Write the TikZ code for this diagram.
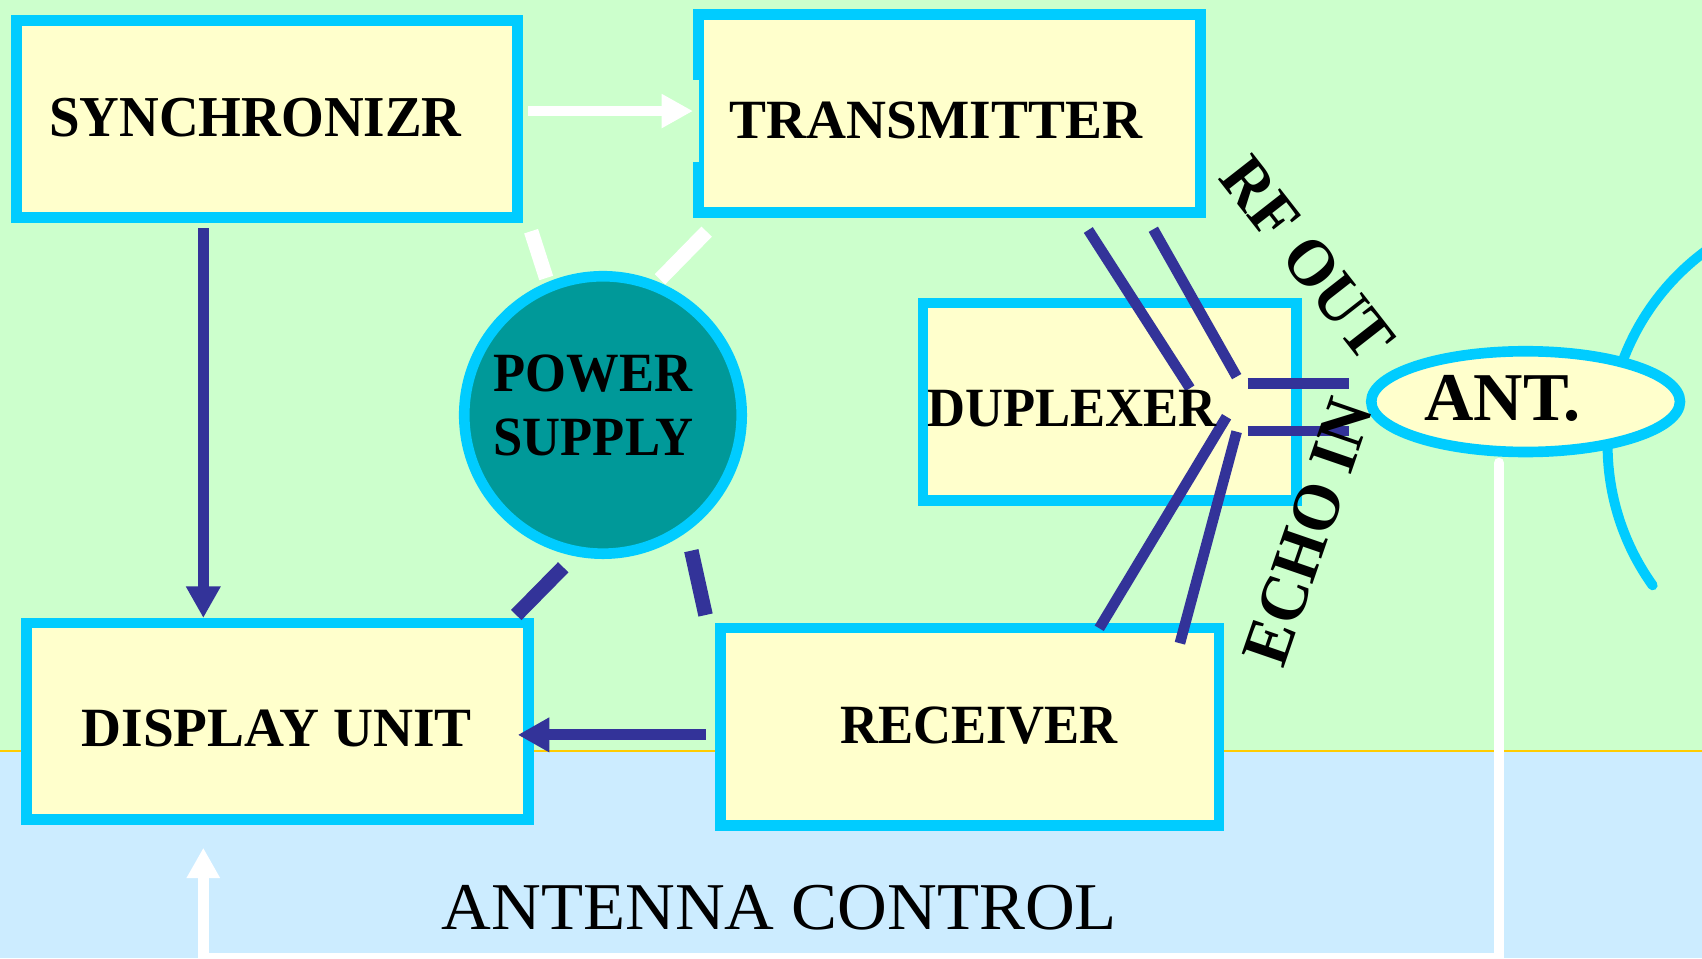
\documentclass[tikz,border=0pt]{standalone}
\usepackage{fontspec}
\usetikzlibrary{arrows.meta,shapes.geometric}
\newfontfamily\lblfont[FakeStretch=0.95]{Liberation Serif}
\newfontfamily\lblwide{Liberation Serif}
\newfontfamily\plainfont[FakeStretch=1.03]{Liberation Serif}
\definecolor{bggreen}{HTML}{CCFFCC}
\definecolor{bgblue}{HTML}{CCECFF}
\definecolor{boxfill}{HTML}{FFFFCC}
\definecolor{cyanb}{HTML}{00CCFF}
\definecolor{navy}{HTML}{333399}
\definecolor{teal}{HTML}{009999}
\definecolor{orangel}{HTML}{FFCC00}
\begin{document}
\begin{tikzpicture}[x=1pt,y=-1pt,
  box/.style={rectangle, draw=cyanb, fill=boxfill, line width=9.8pt, inner sep=0pt},
  lbl/.style={inner sep=0pt, text=black, font=\lblfont\bfseries\fontsize{51}{61}\selectfont},
  lblw/.style={inner sep=0pt, text=black, font=\lblwide\bfseries\fontsize{51}{61}\selectfont},
  navyline/.style={draw=navy, line width=9.8pt},
  navyarrow/.style={draw=navy, line width=10pt, -{Triangle[length=29pt,width=30pt]}},
  whitearrow/.style={draw=white, line width=9.8pt, -{Triangle[length=28.8pt,width=29.5pt]}},
  dashseg/.style={line width=13.4pt},
]
\useasboundingbox (0,0) rectangle (1568,883);
\clip (0,0) rectangle (1568,883);
% backgrounds
\fill[bggreen] (0,0) rectangle (1568,691.5);
\fill[bgblue] (0,691.5) rectangle (1568,883);
\draw[orangel, line width=1.8pt] (0,691.5) -- (1568,691.5);
% antenna dish arc
\draw[cyanb, line width=9.2pt, line cap=round] plot[domain=144.4:245, samples=80] ({1703+222*cos(\x)},{410+222*sin(\x)});
% boxes
\node[box, minimum width=461.6pt, minimum height=181.6pt] (synch) at (245.8,109.5) {};
\node[box, minimum width=462.8pt, minimum height=182.2pt] (trans) at (874.7,104.6) {};
\node[box, minimum width=344pt, minimum height=181.9pt] (dup) at (1022.3,370.05) {};
\node[box, minimum width=459.5pt, minimum height=181.8pt] (recv) at (893.35,669.5) {};
\node[box, minimum width=462.1pt, minimum height=181.2pt] (disp) at (255.65,664.5) {};
\node[circle, draw=cyanb, fill=teal, line width=9.8pt, inner sep=0pt, minimum size=255.6pt] (power) at (555.5,382.3) {};
\node[ellipse, draw=cyanb, fill=boxfill, line width=9.8pt, inner sep=0pt, minimum width=284.4pt, minimum height=92.8pt] (ant) at (1405.5,370) {};
% notch in transmitter border
\fill[bggreen] (638.4,73.7) rectangle (644,149.2);
% coordinates
\coordinate (sw1) at (486.7,102.3);
\coordinate (sw2) at (638.4,102.3);
\coordinate (sd1) at (187.3,210.3);
\coordinate (sd2) at (187.3,569.3);
\coordinate (rd1) at (650,677);
\coordinate (rd2) at (477,677);
\coordinate (wd1a) at (489.3,213);
\coordinate (wd1b) at (503.2,256.1);
\coordinate (wd2a) at (651,213.4);
\coordinate (wd2b) at (608,257.3);
\coordinate (nd1a) at (518.9,522.6);
\coordinate (nd1b) at (475.6,566.6);
\coordinate (nd2a) at (636.9,507.3);
\coordinate (nd2b) at (650,566.6);
\coordinate (la1) at (1002.6,211.9);
\coordinate (la2) at (1096.3,357.7);
\coordinate (lb1) at (1062.5,211.2);
\coordinate (lb2) at (1139.3,347);
\coordinate (lc1) at (1130,383.9);
\coordinate (lc2) at (1012.7,578.8);
\coordinate (ld1) at (1139.3,397.7);
\coordinate (ld2) at (1087,592.6);
\coordinate (bar1a) at (1149.4,353.5);
\coordinate (bar1b) at (1243,353.5);
\coordinate (bar2a) at (1149.4,397.2);
\coordinate (bar2b) at (1243,397.2);
\coordinate (ac1) at (1381,426.5);
\coordinate (ac2) at (1381,882.5);
\coordinate (ac3) at (187.3,882.5);
\coordinate (ac4) at (187.3,781);
% connectors
\draw[whitearrow] (sw1) -- (sw2);
\draw[navyarrow] (sd1) -- (sd2);
\draw[navyarrow] (rd1) -- (rd2);
\draw[white, dashseg] (wd1a) -- (wd1b);
\draw[white, dashseg] (wd2a) -- (wd2b);
\draw[navy, dashseg] (nd1a) -- (nd1b);
\draw[navy, dashseg] (nd2a) -- (nd2b);
\draw[navyline] (la1) -- (la2);
\draw[navyline] (lb1) -- (lb2);
\draw[navyline] (lc1) -- (lc2);
\draw[navyline] (ld1) -- (ld2);
\draw[navyline] (bar1a) -- (bar1b);
\draw[navyline] (bar2a) -- (bar2b);
\draw[draw=white, line width=9.6pt, line cap=round, -{Triangle[length=28pt,width=29pt]}] (ac1) -- (ac2) -- (ac3) -- (ac4);
% labels
\node[lbl, anchor=base, font=\lblfont\bfseries\fontsize{53.3}{63}\selectfont] (synchT) at (235.4,125.9) {SYNCHRONIZR};
\node[lblw, anchor=base] (transT) at (862.3,127.4) {TRANSMITTER};
\node[lbl, anchor=base] (dupT) at (987.7,393.1) {DUPLEXER};
\node[lbl, anchor=base] (recvT) at (901.8,684.8) {RECEIVER};
\node[lblw, anchor=base] (dispT) at (255,687.9) {DISPLAY UNIT};
\node[lbl, anchor=base west] (powT) at (454.5,360.8) {POWER};
\node[lbl, anchor=base west] (supT) at (454.5,419.2) {SUPPLY};
\node[lblw, anchor=base, font=\lblwide\bfseries\fontsize{63}{72}\selectfont] (antT) at (1384.2,387.6) {ANT.};
\node[lbl, rotate=-52, font=\lblfont\bfseries\fontsize{61}{70}\selectfont] (rfT) at (1204.5,238) {RF OUT};
\node[lbl, rotate=71, font=\lblfont\bfseries\fontsize{62}{70}\selectfont] (echoT) at (1205,490) {ECHO IN};
\node[inner sep=0pt, anchor=base, font=\plainfont\fontsize{61.6}{72}\selectfont] (acT) at (718,856) {ANTENNA CONTROL};
\end{tikzpicture}
\end{document}
